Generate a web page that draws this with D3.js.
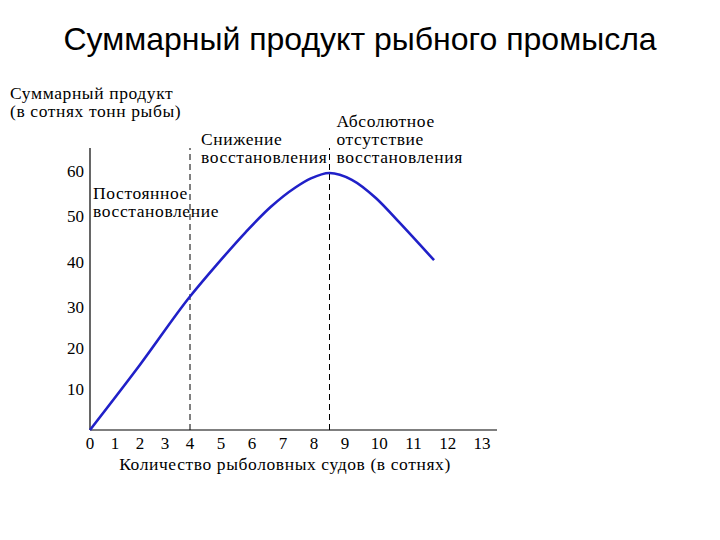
<!DOCTYPE html>
<html>
<head>
<meta charset="utf-8">
<script src="https://cdn.jsdelivr.net/npm/d3@7"></script>
<style>
  body { margin: 0; background: #fff; }
  svg text { fill: #000; }
  .serif { font-family: "Liberation Serif", "DejaVu Serif", serif; font-size: 17px; }
  .lbl { font-size: 17.5px; letter-spacing: 0.6px; }
</style>
</head>
<body>
<svg id="chart" width="720" height="540"></svg>
<script>
// Fishing fleet size vs total catch
const vessels = [0, 2, 4, 4.9, 5.8, 6.6, 7.4, 7.9, 8.5, 9.2, 9.9, 10.6, 11.2, 11.6];          // hundreds of boats
const totalCatch = [0, 15.9, 32.3, 39.6, 46.5, 52.0, 56.3, 58.3, 59.5, 58.0, 54.0, 48.5, 43.6, 40.3]; // hundreds of tons
const xTicks = d3.range(0, 14);
const yTicks = [10, 20, 30, 40, 50, 60];
const markers = [4, 8.5];   // dashed boundaries between regimes

const svg = d3.select("#chart");

// the original drawing is not evenly spaced, so piecewise scales
const x = d3.scaleLinear().domain([0, 4, 9, 13]).range([90, 190, 345, 482]);
const y = d3.scaleLinear().domain([0, 30, 65]).range([430, 307, 148]);

// title
svg.append("text")
  .attr("x", 360).attr("y", 50)
  .attr("text-anchor", "middle")
  .style("font-family", "'Liberation Sans', Arial, sans-serif")
  .style("font-size", "32px")
  .text("Суммарный продукт рыбного промысла");

// axes (plain lines, no tick marks)
svg.append("line")
  .attr("x1", x(0)).attr("x2", x(0))
  .attr("y1", y(0)).attr("y2", y(65))
  .attr("stroke", "#000").attr("stroke-width", 1.2);
svg.append("line")
  .attr("x1", x(0)).attr("x2", 497)
  .attr("y1", y(0)).attr("y2", y(0))
  .attr("stroke", "#000").attr("stroke-width", 1.2);

svg.append("g").selectAll("text")
  .data(xTicks).enter().append("text")
  .attr("class", "serif")
  .attr("x", d => x(d)).attr("y", y(0) + 19)
  .attr("text-anchor", "middle")
  .text(d => d);

svg.append("g").selectAll("text")
  .data(yTicks).enter().append("text")
  .attr("class", "serif")
  .attr("x", x(0) - 6).attr("y", d => y(d) + 6)
  .attr("text-anchor", "end")
  .text(d => d);

// dashed regime boundaries
svg.append("g").selectAll("line")
  .data(markers).enter().append("line")
  .attr("x1", d => x(d)).attr("x2", d => x(d))
  .attr("y1", y(0)).attr("y2", y(65))
  .attr("stroke", "#000").attr("stroke-width", 1)
  .attr("stroke-dasharray", "6,4");

// catch curve
const pts = vessels.map((v, i) => [v, totalCatch[i]]);
svg.append("path")
  .datum(pts)
  .attr("fill", "none")
  .attr("stroke", "#2020c8")
  .attr("stroke-width", 2.6)
  .attr("d", d3.line().x(d => x(d[0])).y(d => y(d[1])).curve(d3.curveMonotoneX));

// labels
function block(x0, y0, lines) {
  const t = svg.append("text").attr("class", "serif lbl").attr("x", x0).attr("y", y0);
  lines.forEach((s, i) => t.append("tspan").attr("x", x0).attr("dy", i ? 18 : 0).text(s));
}
block(10, 99, ["Суммарный продукт", "(в сотнях тонн рыбы)"]);
block(x(0) + 3, 199, ["Постоянное", "восстановление"]);
block(x(4) + 11, 145, ["Снижение", "восстановления"]);
block(x(8.5) + 7, 127, ["Абсолютное", "отсутствие", "восстановления"]);

svg.append("text")
  .attr("class", "serif lbl")
  .attr("x", 285).attr("y", 470)
  .attr("text-anchor", "middle")
  .text("Количество рыболовных судов (в сотнях)");
</script>
</body>
</html>
